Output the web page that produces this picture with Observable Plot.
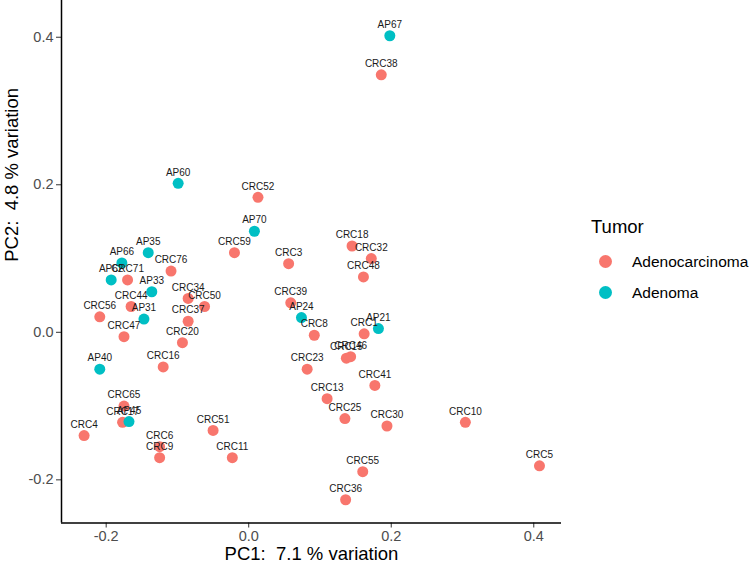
<!DOCTYPE html>
<html>
<head>
<meta charset="utf-8">
<script src="https://cdn.jsdelivr.net/npm/d3@7"></script>
<script src="https://cdn.jsdelivr.net/npm/@observablehq/plot@0.6"></script>
<style>
  html, body { margin: 0; padding: 0; background: #fff; }
  #wrap { position: relative; width: 750px; height: 568px; font-family: "Liberation Sans", Arial, sans-serif; }
  #legend { position: absolute; left: 591px; top: 216px; color: #000; }
  #legend .title { font-size: 18.5px; line-height: 22px; margin-bottom: 8px; }
  #legend .item { display: flex; align-items: center; height: 31px; margin-left: 8px; font-size: 15.5px; }
  #legend .sw { width: 13px; height: 13px; border-radius: 50%; margin-right: 20px; }
  svg [aria-label="x-axis tick label"], svg [aria-label="y-axis tick label"] { fill: #4d4d4d; }
  svg [aria-label="x-axis tick"], svg [aria-label="y-axis tick"] { stroke: #333; }
</style>
</head>
<body>
<div id="wrap"><div id="legend"></div></div>
<script>
const samples = ["AP67","CRC38","AP60","CRC52","AP70","CRC59","AP35","CRC18","CRC32","CRC3",
  "AP66","CRC76","CRC48","AP62","CRC71","AP33","CRC34","CRC50","CRC44","CRC39",
  "CRC56","AP24","AP31","CRC37","AP21","CRC1","CRC8","CRC47","CRC20","CRC15",
  "CRC46","AP40","CRC16","CRC23","CRC41","CRC13","CRC65","CRC17","AP45","CRC25",
  "CRC10","CRC30","CRC51","CRC4","CRC6","CRC9","CRC11","CRC5","CRC55","CRC36"];
const pc1 = [0.198,0.186,-0.099,0.013,0.008,-0.020,-0.141,0.145,0.172,0.056,
  -0.178,-0.109,0.161,-0.193,-0.170,-0.136,-0.085,-0.062,-0.165,0.059,
  -0.209,0.074,-0.147,-0.085,0.182,0.162,0.092,-0.175,-0.093,0.137,
  0.143,-0.209,-0.120,0.082,0.177,0.110,-0.175,-0.177,-0.168,0.135,
  0.304,0.194,-0.050,-0.231,-0.125,-0.125,-0.023,0.408,0.160,0.136];
const pc2 = [0.402,0.349,0.202,0.183,0.137,0.108,0.108,0.117,0.100,0.093,
  0.094,0.083,0.075,0.071,0.071,0.055,0.046,0.035,0.035,0.040,
  0.021,0.020,0.018,0.015,0.005,-0.002,-0.004,-0.006,-0.014,-0.035,
  -0.033,-0.050,-0.047,-0.050,-0.072,-0.090,-0.100,-0.122,-0.121,-0.117,
  -0.122,-0.127,-0.133,-0.140,-0.155,-0.170,-0.170,-0.181,-0.189,-0.227];
const tumor = samples.map(s => s.startsWith("AP") ? "Adenoma" : "Adenocarcinoma");
const tumorLevels = ["Adenocarcinoma", "Adenoma"];
const tumorColors = ["#F8766D", "#00BFC4"];
const xTicks = [-0.2, 0.0, 0.2, 0.4];
const yTicks = [-0.2, 0.0, 0.2, 0.4];
const xDomain = [-0.2627, 0.4389];
const yDomain = [-0.2585, 0.4498];
const xTitle = "PC1:\u00a0\u00a07.1 % variation";
const yTitle = "PC2:\u00a0\u00a04.8 % variation";

const data = samples.map((s, i) => ({sample: s, pc1: pc1[i], pc2: pc2[i], tumor: tumor[i]}));

const chart = Plot.plot({
  width: 750,
  height: 568,
  marginLeft: 61,
  marginRight: 189,
  marginTop: 0,
  marginBottom: 45.5,
  style: {fontFamily: "Liberation Sans, Arial, sans-serif", background: "white", color: "#000"},
  x: {domain: xDomain},
  y: {domain: yDomain},
  color: {domain: tumorLevels, range: tumorColors},
  marks: [
    Plot.axisX({ticks: xTicks, tickFormat: d => d.toFixed(1), tickSize: 5, tickPadding: 3, fontSize: 14.5, label: null}),
    Plot.axisY({ticks: yTicks, tickFormat: d => d.toFixed(1), tickSize: 5, tickPadding: 3, fontSize: 14.5, label: null}),
    Plot.ruleX([xDomain[0]], {stroke: "#000", strokeWidth: 1.5}),
    Plot.ruleY([yDomain[0]], {stroke: "#000", strokeWidth: 1.5}),
    Plot.dot(data, {x: "pc1", y: "pc2", fill: "tumor", r: 5.5}),
    Plot.text(data, {x: "pc1", y: "pc2", text: "sample", dy: -11, fontSize: 10, fill: "#1a1a1a"}),
    Plot.text([xTitle], {frameAnchor: "bottom", dy: 31, fontSize: 18.5, fill: "#000", lineAnchor: "middle"}),
    Plot.text([yTitle], {frameAnchor: "left", dx: -49, rotate: -90, fontSize: 18.5, fill: "#000", lineAnchor: "middle"})
  ]
});
document.getElementById("wrap").prepend(chart);

const legend = document.getElementById("legend");
legend.innerHTML = `<div class="title">Tumor</div>` + tumorLevels.map((t, i) =>
  `<div class="item"><span class="sw" style="background:${tumorColors[i]}"></span><span>${t}</span></div>`).join("");
</script>
</body>
</html>
